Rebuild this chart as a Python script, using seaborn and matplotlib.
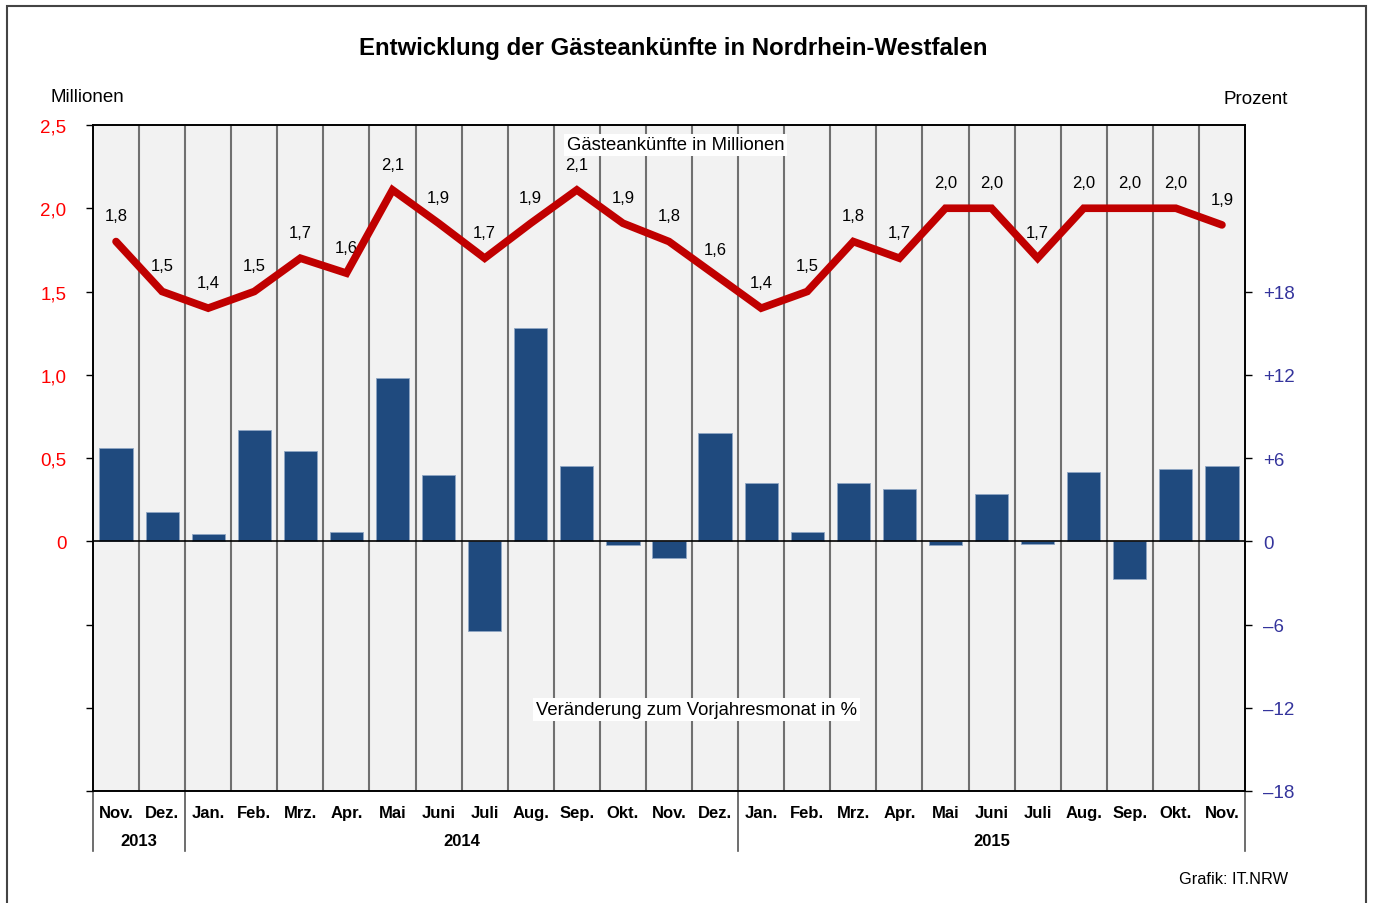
import matplotlib.pyplot as plt
import pandas as pd
import seaborn as sns
from matplotlib.patches import Rectangle
import matplotlib.transforms as mtransforms

# Data
months = ['Nov.', 'Dez.', 'Jan.', 'Feb.', 'Mrz.', 'Apr.', 'Mai', 'Juni', 'Juli', 'Aug.', 'Sep.', 'Okt.', 'Nov.',
          'Dez.', 'Jan.', 'Feb.', 'Mrz.', 'Apr.', 'Mai', 'Juni', 'Juli', 'Aug.', 'Sep.', 'Okt.', 'Nov.']
years = ['2013', '2014', '2015']
year_spans = [(0, 1), (2, 13), (14, 24)]
arrivals = [1.80, 1.50, 1.40, 1.50, 1.70, 1.61, 2.11, 1.91, 1.70, 1.91, 2.11, 1.91, 1.80,
            1.60, 1.40, 1.50, 1.80, 1.70, 2.00, 2.00, 1.70, 2.00, 2.00, 2.00, 1.90]
arrival_labels = ['1,8', '1,5', '1,4', '1,5', '1,7', '1,6', '2,1', '1,9', '1,7', '1,9', '2,1', '1,9', '1,8',
                  '1,6', '1,4', '1,5', '1,8', '1,7', '2,0', '2,0', '1,7', '2,0', '2,0', '2,0', '1,9']
change_pct = [6.7, 2.1, 0.5, 8.0, 6.5, 0.7, 11.8, 4.8, -6.5, 15.4, 5.4, -0.3, -1.2,
              7.8, 4.2, 0.7, 4.2, 3.8, -0.3, 3.4, -0.2, 5.0, -2.7, 5.2, 5.4]

df = pd.DataFrame({'idx': range(len(months)), 'month': months,
                   'arrivals': arrivals, 'change': change_pct})

plt.rcParams['font.family'] = ['Liberation Sans', 'DejaVu Sans']

fig = plt.figure(figsize=(13.73, 9.04), dpi=100)
ax = fig.add_axes([93 / 1373, 1 - 792 / 904, (1245 - 93) / 1373, (792 - 126) / 904])
ax.set_facecolor('#f2f2f2')

# bars (percent, right scale)
sns.barplot(data=df, x='idx', y='change', color='#1f4a7e', width=0.72, saturation=1,
            edgecolor='#8fa6c4', linewidth=0.6, ax=ax, zorder=3)
ax.set_xlim(-0.5, len(months) - 0.5)
ax.set_ylim(-18, 30)
ax.axhline(0, color='black', lw=1.2, zorder=4)
for b in range(len(months) - 1):
    ax.axvline(b + 0.5, color='#707070', lw=1.5, zorder=1)
ax.set_xticks(range(len(months)))
ax.set_xticklabels(months, fontweight='bold', fontsize=12)
ax.tick_params(axis='x', length=0, pad=10)
ax.set_xlabel('')
ax.set_ylabel('')

# line (millions, left scale)
ax2 = ax.twinx()
sns.lineplot(data=df, x='idx', y='arrivals', color='#c00000', lw=5.5, ax=ax2,
             solid_capstyle='round', solid_joinstyle='miter', zorder=5)
ax2.set_ylim(-1.5, 2.5)
ax2.set_xlabel('')
ax2.set_ylabel('')

# swap sides: percent right, millions left
ax.yaxis.tick_right()
ax.yaxis.set_label_position('right')
ax.set_yticks([-18, -12, -6, 0, 6, 12, 18])
ax.set_yticklabels(['\u201318', '\u201312', '\u20136', '0', '+6', '+12', '+18'])
ax.tick_params(axis='y', colors='black', labelcolor='#34349c', labelsize=13.5, length=5, width=1, pad=8)

ax2.yaxis.tick_left()
ax2.yaxis.set_label_position('left')
ax2.set_yticks([-1.5, -1.0, -0.5, 0, 0.5, 1.0, 1.5, 2.0, 2.5])
ax2.set_yticklabels(['', '', '', '0', '0,5', '1,0', '1,5', '2,0', '2,5'])
ax2.tick_params(axis='y', colors='black', labelcolor='#ff0000', labelsize=13.5, length=5, width=1, pad=14)

for a in (ax, ax2):
    for s in a.spines.values():
        s.set_color('black')
        s.set_linewidth(1.2)

for i, (v, lab) in enumerate(zip(arrivals, arrival_labels)):
    ax2.annotate(lab, (i, v), xytext=(0, 18.5), textcoords='offset points',
                 ha='center', va='center', fontsize=12, color='black')

# series captions
ax2.text(12.15, 2.38, 'G\u00e4steank\u00fcnfte in Millionen', ha='center', va='center', fontsize=13.3,
         bbox=dict(facecolor='white', edgecolor='none', pad=2), zorder=6)
ax2.text(12.6, -1.01, 'Ver\u00e4nderung zum Vorjahresmonat in %', ha='center', va='center', fontsize=13.3,
         bbox=dict(facecolor='white', edgecolor='none', pad=2), zorder=6)

# year labels and separators below the axis
trans = mtransforms.blended_transform_factory(ax.transData, ax.transAxes)
for yr, (a, b) in zip(years, year_spans):
    ax.text((a + b) / 2, -0.075, yr, transform=trans, ha='center', va='center',
            fontweight='bold', fontsize=12)
for xs in [-0.5, 1.5, 13.5, 24.5]:
    ax.plot([xs, xs], [0, -0.09], transform=trans, color='#555555', lw=1.2, clip_on=False)

# texts around
fig.text(673 / 1373, 1 - 48 / 904, 'Entwicklung der G\u00e4steank\u00fcnfte in Nordrhein-Westfalen',
         ha='center', va='center', fontsize=17.3, fontweight='bold')
fig.text(50 / 1373, 1 - 97 / 904, 'Millionen', ha='left', va='center', fontsize=13.5)
fig.text(1288 / 1373, 1 - 99 / 904, 'Prozent', ha='right', va='center', fontsize=13.5)
fig.text(1288 / 1373, 1 - 880 / 904, 'Grafik: IT.NRW', ha='right', va='center', fontsize=11.8)

# outer frame
fig.patches.append(Rectangle((7 / 1373, -0.05), (1366 - 7) / 1373, 1 - 7 / 904 + 0.05,
                             transform=fig.transFigure, fill=False, edgecolor='#444444', lw=1.5))

fig.savefig('out.png', dpi=100)
